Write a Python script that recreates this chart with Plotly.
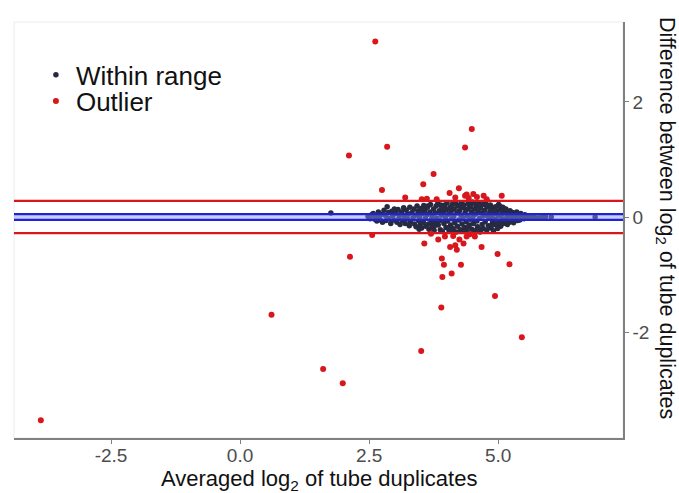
import plotly.graph_objects as go

# Points whose duplicate difference falls inside the tolerance band
within_x = [
    2.48, 2.52, 2.55,
    2.58, 2.61, 2.63, 2.65,
    2.68, 2.70, 2.72, 2.74, 2.76,
    2.79, 2.81, 2.83, 2.85, 2.87, 2.88,
    2.92, 2.94, 2.96, 2.98, 2.99,
    3.02, 3.04, 3.06, 3.08, 3.09, 3.10,
    3.13, 3.15, 3.17, 3.19, 3.20,
    3.22, 3.24, 3.26, 3.28, 3.29, 3.30,
    3.33, 3.35, 3.37, 3.38, 3.40, 3.41,
    3.43, 3.45, 3.46, 3.48, 3.49, 3.50,
    3.52, 3.53, 3.55, 3.56, 3.58, 3.59, 3.60,
    3.62, 3.63, 3.65, 3.66, 3.68, 3.69, 3.70,
    3.72, 3.73, 3.75, 3.76, 3.78, 3.79, 3.80, 3.81,
    3.83, 3.84, 3.86, 3.87, 3.88, 3.90, 3.91, 3.92,
    3.94, 3.95, 3.97, 3.98, 3.99, 4.00, 4.01, 4.02,
    4.04, 4.05, 4.07, 4.08, 4.09, 4.10, 4.11, 4.12,
    4.14, 4.15, 4.16, 4.18, 4.19, 4.20, 4.21, 4.22,
    4.24, 4.25, 4.27, 4.28, 4.29, 4.30, 4.31, 4.32,
    4.34, 4.35, 4.36, 4.38, 4.39, 4.40, 4.41, 4.42,
    4.44, 4.45, 4.46, 4.48, 4.49, 4.50, 4.51, 4.52,
    4.54, 4.55, 4.56, 4.58, 4.59, 4.60, 4.61, 4.62,
    4.64, 4.65, 4.66, 4.68, 4.69, 4.70, 4.71, 4.72,
    4.74, 4.75, 4.76, 4.78, 4.79, 4.80, 4.81, 4.82,
    4.84, 4.85, 4.86, 4.88, 4.89, 4.90, 4.91, 4.92,
    4.94, 4.95, 4.96, 4.98, 4.99, 5.00, 5.01, 5.02,
    5.04, 5.05, 5.07, 5.08, 5.09, 5.10,
    5.12, 5.14, 5.15, 5.17, 5.18, 5.20,
    5.22, 5.23, 5.25, 5.27, 5.28, 5.30,
    5.32, 5.34, 5.36, 5.38, 5.40,
    5.42, 5.44, 5.47, 5.50, 5.52,
    5.56, 5.60, 5.64, 5.70, 5.78, 5.86, 5.92, 6.03, 6.88, 1.76,
    3.47, 3.64, 3.77, 3.96, 4.13, 4.26, 4.43, 4.57, 4.67, 4.83, 4.97, 5.11,
    3.58, 3.71, 3.89, 4.03, 4.17, 4.33, 4.47, 4.63, 4.77, 4.87, 5.03, 5.19,
]
within_y = [
    0.01, -0.03, 0.04,
    0.06, -0.04, 0.02, -0.07,
    0.09, 0.00, -0.05, 0.05, -0.09,
    0.12, 0.03, -0.06, 0.18, -0.02, 0.08,
    -0.11, 0.10, 0.02, -0.05, 0.14,
    0.06, -0.09, 0.13, -0.02, 0.03, -0.13,
    0.09, -0.06, 0.16, 0.01, -0.11,
    0.12, -0.03, 0.05, -0.15, 0.17, -0.08,
    0.08, -0.01, 0.14, -0.12, 0.03, -0.17,
    0.19, 0.10, -0.06, 0.00, -0.14, 0.15,
    -0.19, 0.06, -0.09, 0.20, 0.12, -0.02, -0.16,
    0.04, 0.17, -0.12, -0.21, 0.09, 0.22, -0.05,
    0.01, -0.18, 0.14, -0.23, 0.07, -0.09, 0.19, -0.02,
    0.23, -0.14, 0.11, -0.06, -0.22, 0.03, 0.16, -0.25,
    0.08, -0.11, 0.21, -0.01, -0.18, 0.13, 0.25, -0.07,
    0.05, -0.24, 0.17, -0.14, 0.10, -0.03, 0.22, -0.20,
    0.01, 0.14, -0.10, 0.24, -0.26, 0.07, -0.16, 0.19,
    -0.05, 0.11, -0.22, 0.03, 0.25, -0.12, 0.16, -0.01,
    0.21, -0.18, 0.08, -0.08, 0.13, -0.25, 0.02, 0.23,
    -0.14, 0.17, -0.04, 0.09, -0.21, 0.26, 0.00, -0.11,
    0.14, -0.24, 0.05, 0.20, -0.07, -0.17, 0.11, 0.24,
    -0.02, -0.26, 0.16, 0.07, -0.13, 0.22, -0.20, 0.02,
    0.12, -0.08, 0.25, -0.23, 0.04, 0.18, -0.15, -0.01,
    0.09, 0.21, -0.19, 0.01, -0.10, 0.15, -0.24, 0.06,
    -0.04, 0.18, -0.14, 0.10, -0.20, 0.02, 0.22, -0.08,
    0.13, -0.16, 0.05, -0.03, 0.17, -0.11,
    0.08, -0.06, 0.14, 0.00, -0.13, 0.06,
    -0.09, 0.11, 0.02, -0.04, 0.08, -0.10,
    0.05, -0.02, 0.09, -0.06, 0.03,
    -0.05, 0.06, 0.00, -0.03, 0.04,
    0.01, -0.02, 0.02, 0.00, -0.01, 0.01, 0.00, 0.00, 0.00, 0.07,
    -0.21, 0.19, -0.15, 0.17, -0.22, 0.20, -0.17, 0.22, -0.22, 0.17, -0.12, 0.15,
    0.16, -0.13, 0.21, -0.19, 0.23, -0.24, 0.21, -0.21, 0.20, -0.15, 0.19, -0.07,
]

# Points flagged as outliers
outlier_x = [
    2.62, 4.49, 2.85, 4.36, 2.11, 3.75, 3.55, 2.75, 4.24, 4.06, 5.07,
    3.20, 3.52, 3.62, 3.81, 4.17, 4.36, 4.43, 4.52, 4.59, 4.72, 4.78, 4.39,
    2.56, 3.70, 4.45, 3.57, 3.84, 3.97, 4.13, 4.07, 4.17, 4.33, 4.25, 4.55,
    4.68, 4.99, 5.22, 3.91, 3.95, 4.28, 4.10, 3.92, 4.39, 4.20, 2.13,
    4.94, 3.90, 5.46, 3.51, 1.99, 0.61, 1.61, -3.86,
]
outlier_y = [
    3.05, 1.53, 1.22, 1.21, 1.07, 0.75, 0.57, 0.47, 0.50, 0.42, 0.37,
    0.34, 0.31, 0.32, 0.31, 0.34, 0.37, 0.33, 0.40, 0.35, 0.37, 0.31, 0.39,
    -0.31, -0.29, -0.30, -0.46, -0.39, -0.34, -0.33, -0.52, -0.49, -0.46, -0.39, -0.34,
    -0.52, -0.64, -0.82, -0.72, -0.83, -0.83, -0.98, -1.04, -0.34, -0.57, -0.69,
    -1.37, -1.57, -2.09, -2.33, -2.89, -1.70, -2.64, -3.53,
]

# Reference levels
outlier_cut = 0.28
range_band = 0.05

x_ticks = [-2.5, 0.0, 2.5, 5.0]
x_tick_labels = ["-2.5", "0.0", "2.5", "5.0"]
y_ticks = [-2, 0, 2]
y_tick_labels = ["-2", "0", "2"]

DARK = "#272a40"
RED = "#d8161b"
BLUE = "#1f22d0"
FONT = "Liberation Sans, Arial, sans-serif"

fig = go.Figure()
fig.add_trace(go.Scatter(
    x=within_x, y=within_y, mode="markers", name="Within range", legend="legend",
    marker=dict(color=DARK, size=5.5, line=dict(width=0)),
))
fig.add_trace(go.Scatter(
    x=outlier_x, y=outlier_y, mode="markers", name="Outlier", legend="legend2",
    marker=dict(color=RED, size=6, line=dict(width=0)),
))

# tolerance band around zero and outlier cut-offs
fig.add_shape(type="rect", xref="paper", x0=0, x1=1, y0=-range_band, y1=range_band,
              fillcolor="rgba(130,145,255,0.45)", line=dict(width=0), layer="above")
for yv, col in [(range_band, BLUE), (-range_band, BLUE), (outlier_cut, RED), (-outlier_cut, RED)]:
    fig.add_shape(type="line", xref="paper", x0=0, x1=1, y0=yv, y1=yv,
                  line=dict(color=col, width=2.2), layer="above")

# faint panel border
fig.add_shape(type="rect", xref="paper", yref="paper", x0=0, x1=1, y0=0, y1=1,
              line=dict(color="#ececec", width=1), layer="below")

legend_style = dict(xanchor="left", yanchor="middle", itemwidth=30,
                    font=dict(size=26, family=FONT, color="#111111"),
                    bgcolor="rgba(0,0,0,0)")

fig.update_layout(
    width=679, height=493,
    margin=dict(l=14, r=56, t=22, b=55, autoexpand=False),
    paper_bgcolor="white", plot_bgcolor="white",
    font=dict(family=FONT, color="#000000"),
    showlegend=True,
    legend=dict(x=0.036, y=0.873, **legend_style),
    legend2=dict(x=0.036, y=0.810, **legend_style),
    xaxis=dict(
        range=[-4.38, 7.42], tickvals=x_ticks, ticktext=x_tick_labels, automargin=False,
        showgrid=False, zeroline=False, showline=True, linecolor="#808080", linewidth=1.5,
        ticks="outside", ticklen=4, tickcolor="#808080", ticklabelstandoff=-5,
        tickfont=dict(size=19, color="#4d4d4d", family=FONT),
    ),
    yaxis=dict(
        range=[-3.84, 3.39], tickvals=y_ticks, ticktext=y_tick_labels, side="right",
        automargin=False,
        showgrid=False, zeroline=False, showline=True, linecolor="#808080", linewidth=1.5,
        ticks="outside", ticklen=4, tickcolor="#808080",
        tickfont=dict(size=19, color="#4d4d4d", family=FONT),
    ),
    annotations=[
        dict(
            text="Averaged log<sub>2</sub> of tube duplicates",
            xref="paper", yref="paper", x=0.5, y=-0.102,
            showarrow=False, font=dict(size=22, color="#111111", family=FONT),
            xanchor="center", yanchor="middle",
        ),
        dict(
            text="Difference between log<sub>2</sub> of tube duplicates",
            xref="paper", yref="paper", x=1.07, y=0.53, textangle=90,
            showarrow=False, font=dict(size=21.5, color="#111111", family=FONT),
            xanchor="center", yanchor="middle",
        ),
    ],
)

fig.write_html("out.html")
